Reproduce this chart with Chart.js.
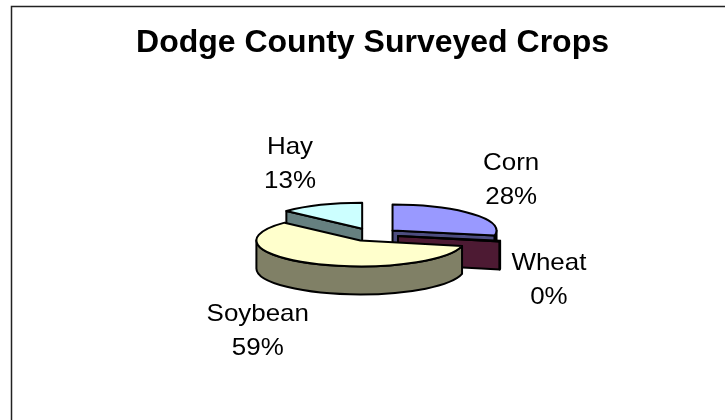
<!DOCTYPE html>
<html>
<head>
<meta charset="utf-8">
<title>Dodge County Surveyed Crops</title>
<script src="https://cdn.jsdelivr.net/npm/chart.js@4.4.1/dist/chart.umd.min.js"></script>
<style>
  html, body { margin: 0; padding: 0; background: #ffffff; }
  #wrap { width: 725px; height: 420px; position: relative; }
</style>
</head>
<body>
<div id="wrap"><canvas id="chart" width="725" height="420"></canvas></div>
<script>
// Crop shares (percent of surveyed acreage)
const crops  = ['Corn', 'Wheat', 'Soybean', 'Hay'];
const shares = [28, 0.4, 58.6, 13];

// Slice styling: top face colour and the shaded side colour
const topColors  = ['#9999FF', '#993366', '#FFFFCC', '#CCFFFF'];
const sideColors = ['#4D4D80', '#4D1A33', '#808066', '#668080'];

const FONT = '"Liberation Sans", Arial, Helvetica, sans-serif';

// White page with the chart frame (its right and bottom run past the page edge)
const framePlugin = {
  id: 'frame',
  beforeDraw(chart) {
    const ctx = chart.ctx;
    ctx.save();
    ctx.fillStyle = '#ffffff';
    ctx.fillRect(0, 0, chart.width, chart.height);
    ctx.strokeStyle = '#222222';
    ctx.lineWidth = 1.5;
    ctx.strokeRect(11.5, 6.5, chart.width + 20, chart.height + 20);
    ctx.restore();
  }
};

// Geometry of each slice as a tilted, extruded, exploded wedge
function sliceGeometry(chart, opts) {
  const meta = chart.getDatasetMeta(0);
  return meta.data.map((arc, i) => {
    const p = arc.getProps(['x', 'y', 'startAngle', 'endAngle', 'outerRadius'], true);
    const mid = (p.startAngle + p.endAngle) / 2;
    const explode = arc.options.offset || 0;
    const rx = p.outerRadius;
    const ry = rx * opts.tilt;
    return {
      i,
      a0: p.startAngle,
      a1: p.endAngle,
      mid,
      rx, ry,
      X: p.x + Math.cos(mid) * explode,
      Y: p.y + Math.sin(mid) * explode * opts.tilt,
      top: arc.options.backgroundColor,
      side: sideColors[i],
      border: arc.options.borderColor,
      bw: arc.options.borderWidth
    };
  });
}

const pie3dPlugin = {
  id: 'pie3d',
  beforeDatasetsDraw(chart, args, opts) {
    const ctx = chart.ctx;
    const D = opts.depth;
    const slices = sliceGeometry(chart, opts)
      .filter(s => s.a1 > s.a0)
      .sort((a, b) => Math.sin(a.mid) - Math.sin(b.mid));

    ctx.save();
    ctx.lineJoin = 'round';
    slices.forEach(s => {
      const {X, Y, rx, ry, a0, a1} = s;
      ctx.strokeStyle = s.border;
      ctx.lineWidth = s.bw;

      // radial cut faces that turn towards the viewer
      const radial = [];
      if (Math.cos(a0) < -1e-6) radial.push(a0);
      if (Math.cos(a1) > 1e-6) radial.push(a1);
      radial.forEach(a => {
        const ex = X + rx * Math.cos(a), ey = Y + ry * Math.sin(a);
        ctx.beginPath();
        ctx.moveTo(X, Y);
        ctx.lineTo(ex, ey);
        ctx.lineTo(ex, ey + D);
        ctx.lineTo(X, Y + D);
        ctx.closePath();
        ctx.fillStyle = s.side;
        ctx.fill();
        ctx.stroke();
      });

      // curved outer wall on the front half of the rim
      const b0 = Math.max(a0, 0), b1 = Math.min(a1, Math.PI);
      if (b1 > b0) {
        ctx.beginPath();
        ctx.ellipse(X, Y, rx, ry, 0, b0, b1, false);
        ctx.lineTo(X + rx * Math.cos(b1), Y + ry * Math.sin(b1) + D);
        ctx.ellipse(X, Y + D, rx, ry, 0, b1, b0, true);
        ctx.closePath();
        ctx.fillStyle = s.side;
        ctx.fill();
        ctx.stroke();
      }

      // top face
      ctx.beginPath();
      ctx.moveTo(X, Y);
      ctx.ellipse(X, Y, rx, ry, 0, a0, a1, false);
      ctx.closePath();
      ctx.fillStyle = s.top;
      ctx.fill();
      ctx.stroke();
    });
    ctx.restore();
    return false;
  },
  afterDraw(chart, args, opts) {
    const ctx = chart.ctx;
    const values = chart.data.datasets[0].data;
    const total = values.reduce((a, b) => a + b, 0);
    const slices = sliceGeometry(chart, opts);
    ctx.save();
    ctx.fillStyle = '#000000';
    ctx.font = opts.labelFont;
    ctx.textAlign = 'center';
    ctx.textBaseline = 'alphabetic';
    slices.forEach(s => {
      const c = Math.cos(s.mid), sn = Math.sin(s.mid);
      const nudge = opts.labelNudge[s.i] || [0, 0];
      const cx = s.X + c * (s.rx + opts.labelGapX) + nudge[0];
      const cy = s.Y + sn * (s.ry + opts.labelGapY) + (sn > 0 ? opts.depth : 0) + nudge[1];
      const lines = [
        chart.data.labels[s.i],
        Math.round(values[s.i] / total * 100) + '%'
      ];
      const gap = opts.lineGap, cap = opts.capHeight;
      lines.forEach((t, k) => {
        const y = cy - gap / 2 + cap / 2 + k * gap;
        ctx.save();
        ctx.translate(cx, y);
        ctx.scale(opts.textStretch, 1);
        ctx.fillText(t, 0, 0);
        ctx.restore();
      });
    });
    ctx.restore();
  }
};

new Chart(document.getElementById('chart'), {
  type: 'pie',
  data: {
    labels: crops,
    datasets: [{
      data: shares,
      backgroundColor: topColors,
      borderColor: '#000000',
      borderWidth: 2,
      offset: 26,
      radius: 104
    }]
  },
  options: {
    responsive: false,
    animation: false,
    events: [],
    layout: { padding: { top: 0, bottom: 51, left: 40, right: 20 } },
    plugins: {
      legend: { display: false },
      tooltip: { enabled: false },
      title: {
        display: true,
        text: 'Dodge County Surveyed Crops',
        color: '#000000',
        font: { family: FONT, size: 32, weight: 'bold' },
        padding: { top: 24, bottom: 38 }
      },
      pie3d: {
        tilt: 0.25,
        depth: 28,
        labelFont: '24px ' + FONT,
        labelGapX: 50,
        labelGapY: 48,
        lineGap: 34,
        capHeight: 17,
        textStretch: 1.08,
        labelNudge: [[0, -5], [0, 0], [-31, -4], [-11, 2]]
      }
    }
  },
  plugins: [framePlugin, pie3dPlugin]
});
</script>
</body>
</html>
